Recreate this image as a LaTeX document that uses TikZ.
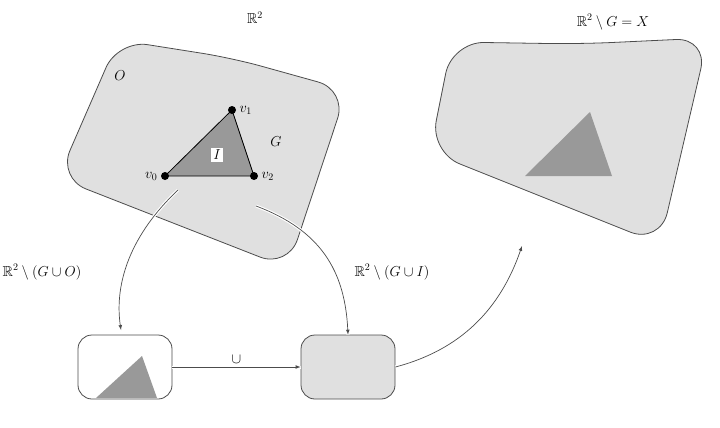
\documentclass[tikz,border=0pt]{standalone}
\usepackage{amssymb}
\begin{document}
\begin{tikzpicture}[x=1pt,y=-1pt,
  blob/.style={draw=black!70,fill=black!12,line width=0.8pt},
  lbl/.style={font=\Large},
  conn/.style={draw=black!70,line width=0.7pt,-{latex},preaction={draw=white,line width=3pt,-}}]
\useasboundingbox (0,0) rectangle (720,428);
% blob 1
\draw[blob,rounded corners=30] (232,58) -- (347,90) -- (288,268) -- (58,178) -- (118,40) -- cycle;
% triangle
\coordinate (v0) at (165,176);
\coordinate (v1) at (232,110);
\coordinate (v2) at (254,176);
\fill[black!40] (v0)--(v1)--(v2)--cycle;
\draw[line width=0.8pt] (v0)--(v1)--(v2)--cycle;
\node[fill=white,inner sep=2pt,lbl] (I) at (217,155) {$I$};
\foreach \p in {v0,v1,v2} \fill (\p) circle (4);
\node[lbl,left=4pt] (lv0) at (v0) {$v_0$};
\node[lbl,right=4pt] (lv1) at (v1) {$v_1$};
\node[lbl,right=4pt] (lv2) at (v2) {$v_2$};
\node[lbl] (O) at (120,76) {$O$};
\node[lbl] (G) at (276,142) {$G$};
\node[lbl] (R2) at (255,18) {$\mathbb{R}^2$};
% blob 2
\draw[blob,rounded corners=32] (580,44) -- (708,38) -- (660,244) -- (430,152) -- (452,42) -- cycle;
\fill[black!40] (525,176) -- (590,112) -- (612,176) -- cycle;
\node[lbl] (X) at (613,22) {$\mathbb{R}^2\setminus G = X$};
% small boxes
\node[draw=black!70,line width=0.8pt,fill=white,rounded corners=14,minimum width=94,minimum height=64] (A) at (125,367) {};
\fill[black!40] (96,398) -- (142,356) -- (157,398) -- cycle;
\node[draw=black!70,line width=0.8pt,fill=black!12,rounded corners=14,minimum width=94,minimum height=64] (B) at (348,367) {};
% connectors
\coordinate (s1) at (178,190);
\coordinate (s2) at (256,206);
\coordinate (e1) at (121,330);
\coordinate (e4) at (522,246);
\draw[conn] (s1) .. controls (125,240) and (115,290) .. (e1);
\draw[conn] (s2) .. controls (320,230) and (345,270) .. (B.north);
\draw[conn] (A.east) -- node[above,lbl] {$\cup$} (B.west);
\draw[conn] (B.east) .. controls (460,350) and (500,310) .. (e4);
\node[lbl] (L1) at (42,272) {$\mathbb{R}^2\setminus(G\cup O)$};
\node[lbl] (L2) at (392,272) {$\mathbb{R}^2\setminus(G\cup I)$};
\end{tikzpicture}
\end{document}
